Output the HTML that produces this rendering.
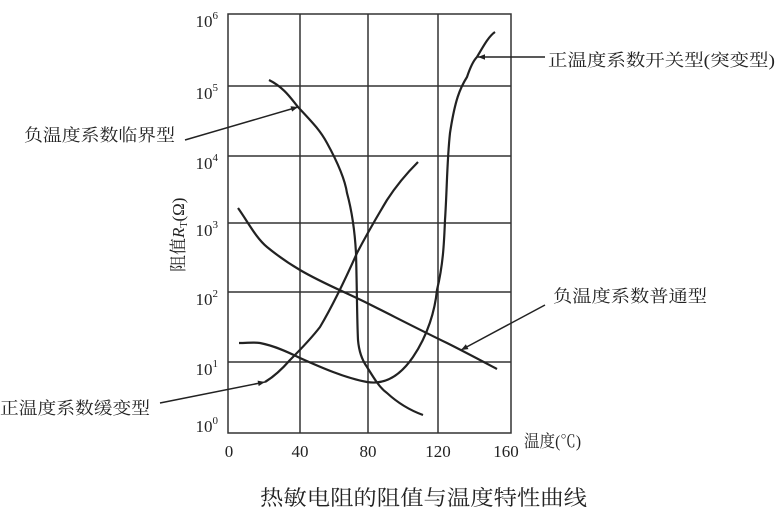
<!DOCTYPE html>
<html><head><meta charset="utf-8"><style>
body{margin:0;background:#fff;width:778px;height:519px;overflow:hidden}
svg{display:block}
text{fill:#222}
.t{font-family:"Liberation Serif",serif;font-size:17px}
.c{font-family:"Liberation Serif","Noto Serif CJK SC",serif;font-size:17px}
</style></head><body>
<svg width="778" height="519" viewBox="0 0 778 519">
<defs><marker id="a" viewBox="0 0 10 10" refX="10" refY="5" markerWidth="9" markerHeight="7" orient="auto" markerUnits="userSpaceOnUse"><path d="M0,1 L10,5 L0,9 Z" fill="#222"/></marker></defs>
<g stroke="#333" stroke-width="1.5" fill="none">
<rect x="228" y="14" width="283" height="419"/>
<line x1="300" y1="14" x2="300" y2="433"/><line x1="368" y1="14" x2="368" y2="433"/><line x1="438" y1="14" x2="438" y2="433"/>
<line x1="228" y1="86" x2="511" y2="86"/><line x1="228" y1="156" x2="511" y2="156"/><line x1="228" y1="223" x2="511" y2="223"/><line x1="228" y1="292" x2="511" y2="292"/><line x1="228" y1="362" x2="511" y2="362"/>
</g>
<g stroke="#222" stroke-width="2.2" fill="none">
<path d="M269,80 C285,88 292,100 298,107 C312,122 320,130 327,143 C338,163 345,180 347,193 C353,215 355,235 356,253 C357,290 357,320 358,340 C359,352 362,360 367,367 C375,380 380,388 387,393 C400,405 412,411 423,415"/>
<path d="M265,382 C275,376 283,368 290,360 C300,350 310,340 320,327 C333,305 345,280 357,253 C368,232 378,215 387,200 C398,183 408,172 418,162"/>
<path d="M238,208 C248,222 256,238 267,247 C278,256 288,263 300,270 C322,283 345,292 367,303 C395,317 420,330 447,343 C465,352 480,360 497,369"/>
<path d="M239,343 C248,343 254,342 260,343 C275,346 288,352 300,358 C320,367 345,378 367,382 C385,385 400,376 413,357 C428,335 435,310 437,290 C443,265 444,245 445,220 C447,190 447,160 450,133 C455,100 460,88 467,77 C470,68 474,60 477,57 C484,45 489,36 495,32"/>
</g>
<g stroke="#222" stroke-width="1.5" fill="none" marker-end="url(#a)">
<line x1="185" y1="140" x2="298" y2="107"/>
<line x1="545" y1="57" x2="478" y2="57"/>
<line x1="545" y1="305" x2="461" y2="350"/>
<line x1="160" y1="403" x2="265" y2="382"/>
</g>
<g class="t" text-anchor="end">
<text x="218" y="27">10<tspan dy="-8" font-size="11">6</tspan></text>
<text x="218" y="99">10<tspan dy="-8" font-size="11">5</tspan></text>
<text x="218" y="169">10<tspan dy="-8" font-size="11">4</tspan></text>
<text x="218" y="236">10<tspan dy="-8" font-size="11">3</tspan></text>
<text x="218" y="305">10<tspan dy="-8" font-size="11">2</tspan></text>
<text x="218" y="375">10<tspan dy="-8" font-size="11">1</tspan></text>
<text x="218" y="432">10<tspan dy="-8" font-size="11">0</tspan></text>
</g>
<g class="t" text-anchor="middle">
<text x="229" y="457">0</text><text x="300" y="457">40</text><text x="368" y="457">80</text><text x="438" y="457">120</text><text x="506" y="457">160</text>
</g>
<text class="c" x="548" y="66" textLength="227" lengthAdjust="spacingAndGlyphs">正温度系数开关型(突变型)</text>
<text class="c" x="24" y="141" textLength="151" lengthAdjust="spacingAndGlyphs">负温度系数临界型</text>
<text class="c" x="553" y="302" textLength="154" lengthAdjust="spacingAndGlyphs">负温度系数普通型</text>
<text class="c" x="0" y="414" textLength="150" lengthAdjust="spacingAndGlyphs">正温度系数缓变型</text>
<text class="c" x="524" y="447" textLength="57" lengthAdjust="spacingAndGlyphs">温度(℃)</text>
<text class="c" transform="translate(184,272) rotate(-90)">阻值<tspan font-style="italic">R</tspan><tspan font-size="10" dy="3">T</tspan><tspan dy="-3">(Ω)</tspan></text>
<text class="c" x="260" y="505" textLength="327" lengthAdjust="spacingAndGlyphs" style="font-size:21px">热敏电阻的阻值与温度特性曲线</text>
</svg>
</body></html>
